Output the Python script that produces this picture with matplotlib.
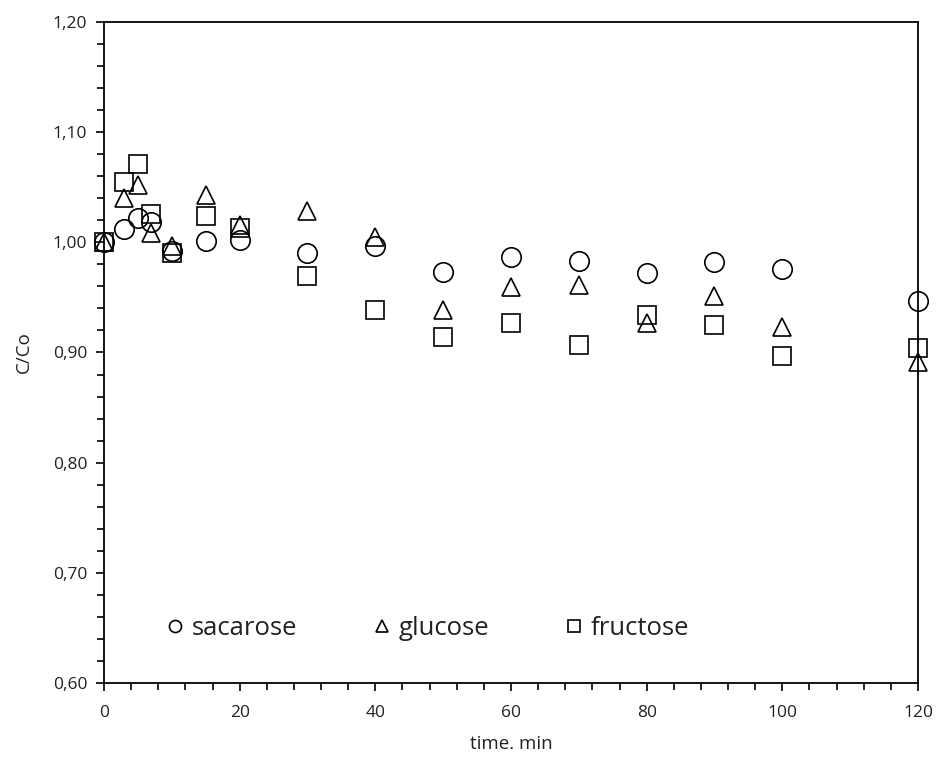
import matplotlib
matplotlib.use("Agg")
import matplotlib.pyplot as plt
from matplotlib.ticker import MultipleLocator, FuncFormatter

plt.rcParams['font.family'] = ['Open Sans', 'DejaVu Sans']

time_min = [0, 3, 5, 7, 10, 15, 20, 30, 40, 50, 60, 70, 80, 90, 100, 120]
sacarose = [1.000, 1.012, 1.022, 1.018, 0.992, 1.001, 1.002, 0.990, 0.997,
            0.973, 0.987, 0.983, 0.972, 0.982, 0.976, 0.947]
glucose = [1.000, 1.040, 1.052, 1.008, 0.997, 1.043, 1.016, 1.028, 1.005,
           0.939, 0.959, 0.961, 0.927, 0.951, 0.923, 0.891]
fructose = [1.000, 1.055, 1.071, 1.026, 0.990, 1.024, 1.013, 0.969, 0.939,
            0.914, 0.927, 0.907, 0.934, 0.925, 0.897, 0.904]

txt = '#222222'

fig = plt.figure(figsize=(9.4, 7.6), dpi=100)
ax = fig.add_axes([0.1106, 0.1013, 0.866, 0.8698])

style = dict(linestyle='none', markerfacecolor='none', markeredgecolor='black',
             markeredgewidth=1.2, clip_on=False)
ax.plot(time_min, sacarose, marker='o', markersize=14, label='sacarose', **style)
ax.plot(time_min, glucose, marker='^', markersize=13, label='glucose', **style)
ax.plot(time_min, fructose, marker='s', markersize=13, label='fructose', **style)

ax.set_xlim(0, 120)
ax.set_ylim(0.60, 1.20)
ax.xaxis.set_major_locator(MultipleLocator(20))
ax.xaxis.set_minor_locator(MultipleLocator(4))
ax.yaxis.set_major_locator(MultipleLocator(0.10))
ax.yaxis.set_minor_locator(MultipleLocator(0.02))
ax.yaxis.set_major_formatter(FuncFormatter(lambda v, p: f"{v:.2f}".replace('.', ',')))

ax.tick_params(which='both', direction='out', width=1.2, colors='black',
               labelcolor=txt, labelsize=12.5)
ax.tick_params(which='major', length=6)
ax.tick_params(which='minor', length=5)
ax.tick_params(axis='x', pad=10)
ax.tick_params(axis='y', pad=6)
for s in ax.spines.values():
    s.set_linewidth(1.3)

ax.set_xlabel('time. min', fontsize=13.5, color=txt, labelpad=10)
ax.set_ylabel('C/Co', fontsize=13.5, color=txt, labelpad=14)

leg = ax.legend(loc='center', bbox_to_anchor=(0.398, 0.082), ncol=3, frameon=False,
                fontsize=18.5, markerscale=0.62, handlelength=0.6, handletextpad=0.35,
                columnspacing=3.0)
for t in leg.get_texts():
    t.set_color(txt)

fig.savefig('out.png', dpi=100)
